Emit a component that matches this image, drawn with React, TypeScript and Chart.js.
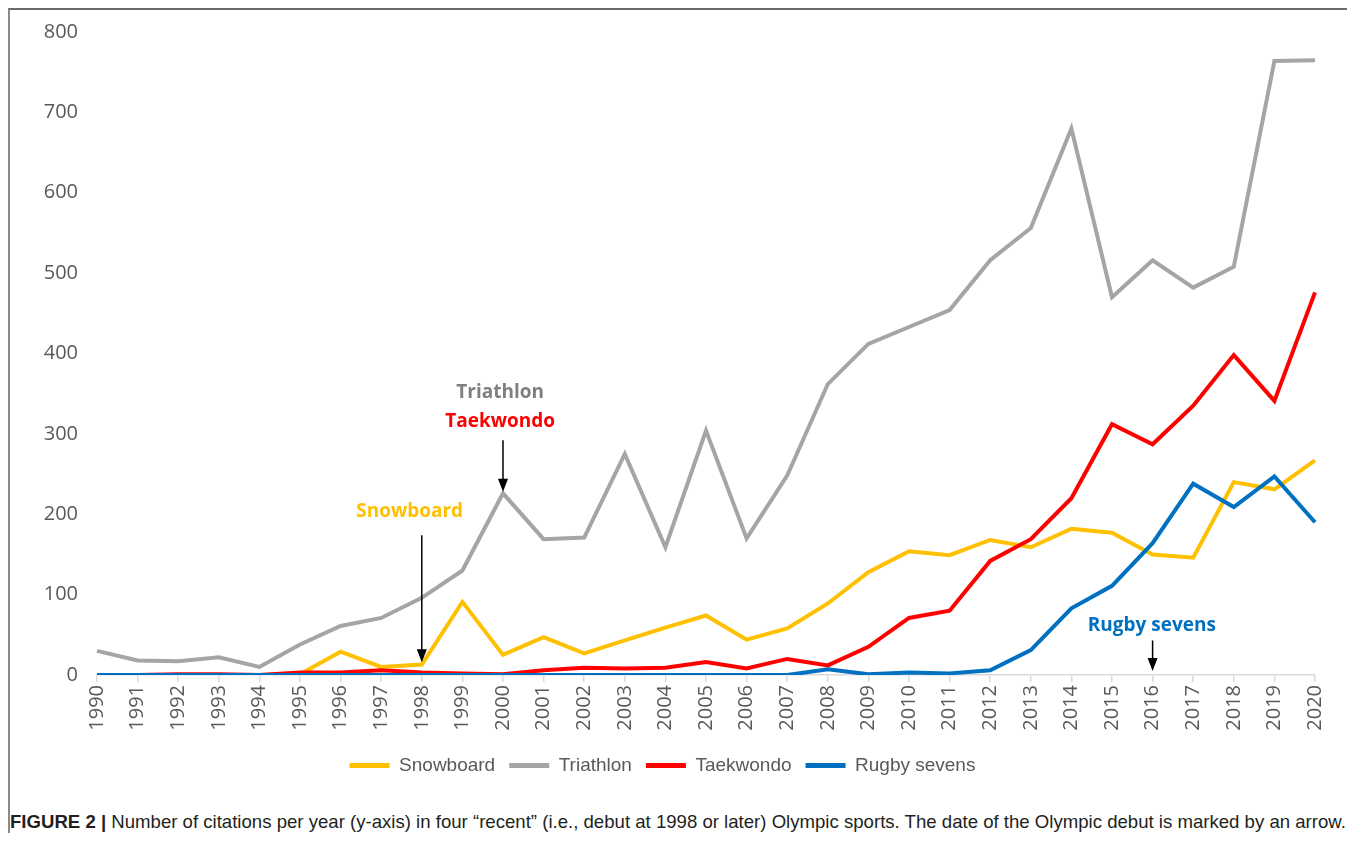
import React, { useEffect, useRef } from "react";
import { Chart, registerables } from "chart.js";

Chart.register(...registerables);

const years = [
  "1990", "1991", "1992", "1993", "1994", "1995", "1996", "1997", "1998", "1999",
  "2000", "2001", "2002", "2003", "2004", "2005", "2006", "2007", "2008", "2009",
  "2010", "2011", "2012", "2013", "2014", "2015", "2016", "2017", "2018", "2019", "2020",
];

const snowboard = [0, 0, 0, 0, 0, 1, 29, 10, 13, 91, 25, 47, 27, 43, 59, 74, 44, 58, 89, 128, 154, 149, 168, 159, 182, 177, 150, 146, 240, 231, 267];
const triathlon = [30, 18, 17, 22, 10, 38, 61, 71, 96, 130, 226, 169, 171, 275, 159, 304, 170, 248, 362, 412, 433, 454, 516, 556, 680, 470, 516, 482, 508, 764, 765];
const taekwondo = [0, 0, 1, 1, 0, 3, 3, 6, 3, 2, 1, 6, 9, 8, 9, 16, 8, 20, 12, 35, 71, 80, 142, 169, 220, 312, 287, 335, 398, 341, 476];
const rugby = [0, 0, 0, 0, 0, 0, 0, 0, 0, 0, 0, 0, 0, 0, 0, 0, 0, 0, 7, 1, 3, 2, 6, 31, 83, 111, 164, 238, 209, 247, 190];

const yTicks = [0, 100, 200, 300, 400, 500, 600, 700, 800];

const seriesNames = ["Snowboard", "Triathlon", "Taekwondo", "Rugby sevens"];
const seriesColors = ["#FFC000", "#A5A5A5", "#FF0000", "#0070C0"];

// debut annotations: label text, colour, x (category index), y (value)
const noteLabels = [
  { text: "Triathlon", color: "#7F7F7F", x: 9.93, y: 351 },
  { text: "Taekwondo", color: "#FF0000", x: 9.93, y: 315 },
  { text: "Snowboard", color: "#FFC000", x: 7.7, y: 203 },
  { text: "Rugby sevens", color: "#0070C0", x: 25.98, y: 62 },
];
const noteArrows = [
  { x: 10, from: 292, to: 228 },
  { x: 8, from: 174, to: 16 },
  { x: 26, from: 43, to: 5 },
];

const annotationPlugin = {
  id: "debutNotes",
  afterDatasetsDraw(chart: any) {
    const { ctx, scales } = chart;
    const xs = scales.x;
    const ys = scales.y;
    const xAt = (v: number) => {
      const a = xs.getPixelForValue(0);
      const b = xs.getPixelForValue(1);
      return a + (b - a) * v;
    };
    ctx.save();
    ctx.font = "bold 19px 'Open Sans'";
    ctx.textAlign = "center";
    ctx.textBaseline = "middle";
    noteLabels.forEach((n) => {
      ctx.fillStyle = n.color;
      ctx.fillText(n.text, xAt(n.x), ys.getPixelForValue(n.y));
    });
    ctx.strokeStyle = "#000";
    ctx.fillStyle = "#000";
    ctx.lineWidth = 1.5;
    noteArrows.forEach((a) => {
      const px = xAt(a.x);
      const y0 = ys.getPixelForValue(a.from);
      const y1 = ys.getPixelForValue(a.to);
      ctx.beginPath();
      ctx.moveTo(px, y0);
      ctx.lineTo(px, y1 - 12);
      ctx.stroke();
      ctx.beginPath();
      ctx.moveTo(px - 5, y1 - 13);
      ctx.lineTo(px + 5, y1 - 13);
      ctx.lineTo(px, y1);
      ctx.closePath();
      ctx.fill();
    });
    ctx.restore();
  },
};

export default function App() {
  const canvasRef = useRef<HTMLCanvasElement | null>(null);

  useEffect(() => {
    if (!canvasRef.current) return;
    const seriesData = [snowboard, triathlon, taekwondo, rugby];
    const orders = [4, 3, 2, 1];
    const chart = new Chart(canvasRef.current, {
      type: "line",
      data: {
        labels: years,
        datasets: seriesNames.map((name, i) => ({
          label: name,
          data: seriesData[i],
          borderColor: seriesColors[i],
          backgroundColor: seriesColors[i],
          borderWidth: 4,
          pointRadius: 0,
          tension: 0,
          fill: false,
          order: orders[i],
        })),
      },
      options: {
        animation: false,
        responsive: false,
        devicePixelRatio: 1,
        layout: { padding: { top: 22, right: 40, bottom: 15, left: 0 } },
        plugins: {
          tooltip: { enabled: false },
          legend: {
            position: "bottom",
            labels: {
              boxWidth: 40,
              boxHeight: 5,
              padding: 14,
              color: "#595959",
              font: { family: "'Liberation Sans', Arial", size: 19 },
              sort: (a: any, b: any) => a.datasetIndex - b.datasetIndex,
              generateLabels: (c: any) =>
                (Chart.defaults.plugins.legend.labels.generateLabels as any)(c).map((l: any) => ({
                  ...l,
                  lineWidth: 0,
                  fillStyle: l.strokeStyle,
                })),
            },
          },
        },
        scales: {
          x: {
            type: "category",
            offset: false,
            grid: {
              display: true,
              drawOnChartArea: false,
              drawTicks: true,
              tickLength: 7,
              color: "#D9D9D9",
              lineWidth: 1.5,
            },
            border: { display: true, color: "#D9D9D9", width: 1.5 },
            ticks: {
              autoSkip: false,
              maxRotation: 90,
              minRotation: 90,
              padding: 3,
              color: "#595959",
              font: { family: "'Open Sans'", size: 20 },
            },
            afterFit: (s: any) => {
              s.height = 67;
            },
          },
          y: {
            min: 0,
            max: 800,
            afterBuildTicks: (s: any) => {
              s.ticks = yTicks.map((v) => ({ value: v }));
            },
            grid: { display: false, drawTicks: false },
            border: { display: false },
            ticks: {
              padding: 19,
              color: "#595959",
              font: { family: "'Open Sans'", size: 20 },
            },
            afterFit: (s: any) => {
              s.width = 87;
              s.paddingTop = 0;
              s.paddingBottom = 0;
            },
          },
        },
      },
      plugins: [annotationPlugin],
    } as any);
    return () => chart.destroy();
  }, []);

  return (
    <div
      style={{
        position: "relative",
        width: 1347,
        height: 825,
        marginRight: -8,
        boxSizing: "border-box",
        borderTop: "2px solid #6b6b6b",
        borderLeft: "2px solid #8a8a8a",
        overflow: "hidden",
      }}
    >
      <canvas
        ref={canvasRef}
        width={1345}
        height={790}
        style={{ position: "absolute", left: 0, top: 0, width: 1345, height: 790 }}
      />
      <div
        style={{
          position: "absolute",
          left: 0,
          top: 802,
          lineHeight: "20px",
          fontFamily: "'Liberation Sans', Arial, sans-serif",
          fontSize: 18.6,
          color: "#231F20",
          whiteSpace: "nowrap",
        }}
      >
        <b>FIGURE 2 |</b> Number of citations per year (y-axis) in four “recent” (i.e., debut at 1998 or later) Olympic sports. The date of the Olympic debut is marked by an arrow.
      </div>
    </div>
  );
}
